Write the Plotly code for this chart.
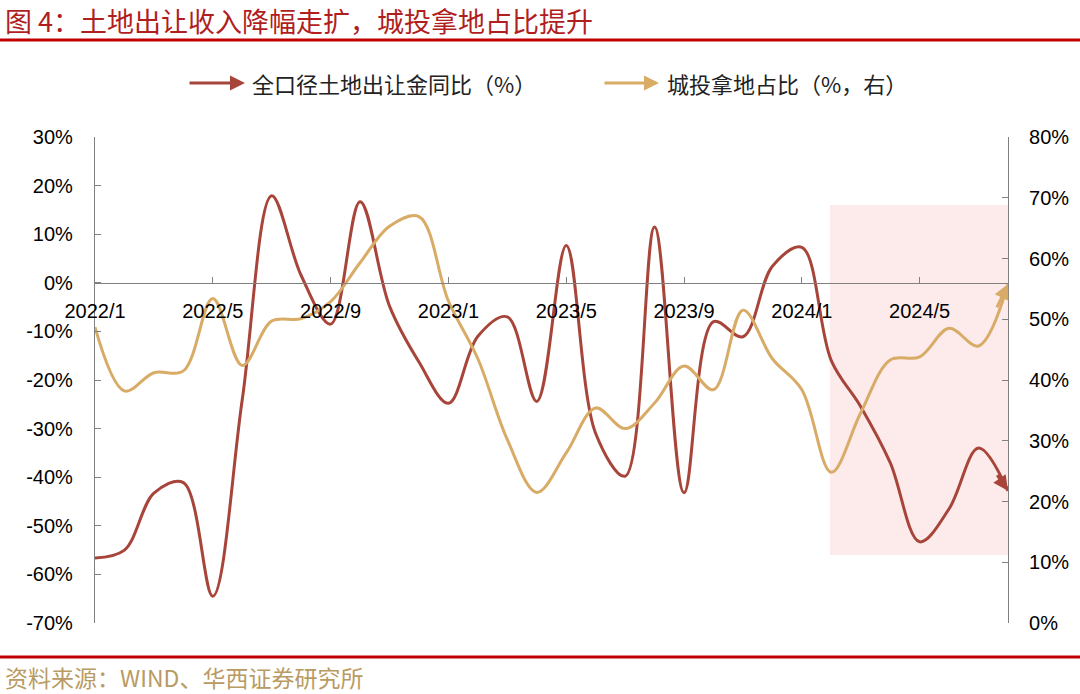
import plotly.graph_objects as go

months = ["2022/1", "2022/2", "2022/3", "2022/4", "2022/5", "2022/6", "2022/7", "2022/8",
          "2022/9", "2022/10", "2022/11", "2022/12", "2023/1", "2023/2", "2023/3", "2023/4",
          "2023/5", "2023/6", "2023/7", "2023/8", "2023/9", "2023/10", "2023/11", "2023/12",
          "2024/1", "2024/2", "2024/3", "2024/4", "2024/5", "2024/6", "2024/7", "2024/8"]
tick_months = ["2022/1", "2022/5", "2022/9", "2023/1", "2023/5", "2023/9", "2024/1", "2024/5"]

land_yoy = [-56.6, -55.0, -43.3, -41.1, -64.5, -24.0, 17.9, 1.5, -8.5, 16.7, -4.8, -16.3,
            -24.8, -11.0, -7.0, -24.4, 7.7, -31.0, -39.8, 11.5, -43.2, -8.0, -11.1, 3.4,
            7.3, -16.0, -25.5, -37.0, -53.3, -46.5, -34.0, -42.8]
lgfv_share = [48.7, 38.2, 41.2, 41.5, 53.4, 42.4, 49.7, 50.1, 52.9, 59.3, 65.3, 66.9,
              53.0, 43.5, 30.2, 21.5, 28.0, 35.4, 32.0, 36.2, 42.3, 38.4, 51.5, 43.5,
              38.4, 24.8, 34.6, 43.3, 43.8, 48.5, 45.6, 55.8]

left_ticks = [30, 20, 10, 0, -10, -20, -30, -40, -50, -60, -70]
right_ticks = [80, 70, 60, 50, 40, 30, 20, 10, 0]

RED = "#A8453B"
GOLD = "#D8AB66"
AX = "#808080"
CJK = "Noto Sans CJK SC"
LAT = "Liberation Sans"

name_red = "全口径土地出让金同比（%）"
name_gold = "城投拿地占比（%，右）"

fig = go.Figure()
fig.add_trace(go.Scatter(x=months, y=land_yoy, mode="lines", name=name_red,
                         line=dict(color=RED, width=3, shape="spline", smoothing=1),
                         yaxis="y", showlegend=False))
fig.add_trace(go.Scatter(x=months, y=lgfv_share, mode="lines", name=name_gold,
                         line=dict(color=GOLD, width=3, shape="spline", smoothing=1),
                         yaxis="y2", showlegend=False))

W, H = 1080, 694
L, R, T, B = 95, 72, 137, 71
pw, ph = W - L - R, H - T - B

def px(x):
    return (x - L) / pw

def py(y):
    return (H - B - y) / ph

n = len(months)
frac = 0.6  # tail of the end arrow, as fraction of the last segment
def tail(vals):
    return vals[-2] + (vals[-1] - vals[-2]) * frac

shapes = [
    dict(type="rect", xref="x", yref="y", x0=24.95, x1=31, y0=-56, y1=16,
         fillcolor="#FDEBEB", line=dict(width=0), layer="below"),
    dict(type="line", xref="paper", yref="paper", x0=px(0), x1=px(W), y0=py(40), y1=py(40),
         line=dict(color="#C00000", width=3)),
    dict(type="line", xref="paper", yref="paper", x0=px(0), x1=px(W), y0=py(657), y1=py(657),
         line=dict(color="#C00000", width=3)),
]

annotations = [
    dict(xref="paper", yref="paper", x=px(3), y=py(20), xanchor="left", yanchor="middle",
         text="图 4：土地出让收入降幅走扩，城投拿地占比提升", showarrow=False,
         font=dict(family=CJK, size=27, color="#B01E1E")),
    dict(xref="paper", yref="paper", x=px(3), y=py(677), xanchor="left", yanchor="middle",
         text="资料来源：WIND、华西证券研究所", showarrow=False,
         font=dict(family=CJK, size=23, color="#B99A63")),
    # legend
    dict(xref="paper", yref="paper", x=px(245), y=py(83), ax=-57, ay=0, text="",
         showarrow=True, arrowhead=2, arrowsize=1, arrowwidth=3, arrowcolor=RED),
    dict(xref="paper", yref="paper", x=px(250), y=py(83), xanchor="left", yanchor="middle",
         text=name_red, showarrow=False, font=dict(family=CJK, size=22, color="#222222")),
    dict(xref="paper", yref="paper", x=px(659), y=py(83), ax=-56, ay=0, text="",
         showarrow=True, arrowhead=2, arrowsize=1, arrowwidth=3, arrowcolor=GOLD),
    dict(xref="paper", yref="paper", x=px(665), y=py(83), xanchor="left", yanchor="middle",
         text=name_gold, showarrow=False, font=dict(family=CJK, size=22, color="#222222")),
    # arrow heads at the ends of the series
    dict(xref="x", yref="y", x=n - 1, y=land_yoy[-1], axref="x", ayref="y",
         ax=n - 2 + frac, ay=tail(land_yoy), text="", showarrow=True,
         arrowhead=2, arrowsize=1, arrowwidth=3, arrowcolor=RED),
    dict(xref="x", yref="y2", x=n - 1, y=lgfv_share[-1], axref="x", ayref="y2",
         ax=n - 2 + frac, ay=tail(lgfv_share), text="", showarrow=True,
         arrowhead=2, arrowsize=1, arrowwidth=3, arrowcolor=GOLD),
]

fig.update_layout(
    width=W, height=H,
    margin=dict(l=L, r=R, t=T, b=B, pad=0),
    paper_bgcolor="white", plot_bgcolor="rgba(0,0,0,0)",
    shapes=shapes, annotations=annotations,
    xaxis=dict(type="category", range=[0, n - 1], tickmode="array",
               tickvals=tick_months, ticktext=tick_months,
               showline=True, linecolor=AX, linewidth=1.2, ticks="inside", ticklen=6,
               tickcolor=AX, showgrid=False, zeroline=False,
               anchor="free", position=0.7, ticklabelstandoff=10,
               tickfont=dict(family=LAT, size=20, color="black")),
    yaxis=dict(range=[-70, 30], tickmode="array", tickvals=left_ticks,
               ticktext=[f"{v}%" for v in left_ticks],
               showline=True, linecolor=AX, linewidth=1.2, ticks="inside", ticklen=6,
               tickcolor=AX, showgrid=False, zeroline=False, ticklabelstandoff=17,
               tickfont=dict(family=LAT, size=20, color="black")),
    yaxis2=dict(range=[0, 80], overlaying="y", side="right", tickmode="array",
                tickvals=right_ticks, ticktext=[f"{v}%" for v in right_ticks],
                showline=True, linecolor=AX, linewidth=1.2, ticks="inside", ticklen=6,
                tickcolor=AX, showgrid=False, zeroline=False, ticklabelstandoff=16,
                tickfont=dict(family=LAT, size=20, color="black")),
)

fig.write_html("out.html", config={"displayModeBar": False},
               post_script="document.body.style.margin='0';document.body.style.overflow='hidden';")
